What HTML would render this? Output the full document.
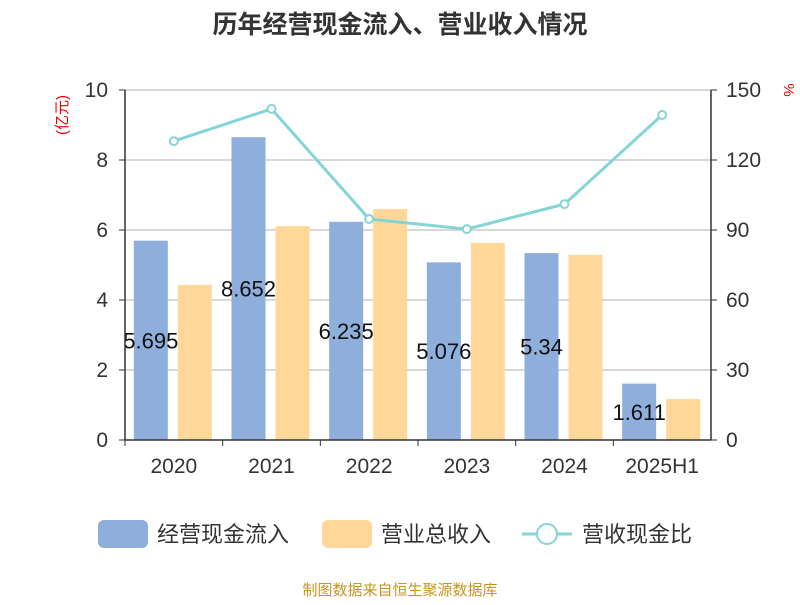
<!DOCTYPE html>
<html><head><meta charset="utf-8"><style>
body{margin:0;background:#fff;}
svg{font-family:"Liberation Sans","Noto Sans CJK SC",sans-serif;}
</style></head><body>
<svg id="chart" width="800" height="600">
<text x="400" y="33" text-anchor="middle" font-size="25" font-weight="bold" fill="#333">历年经营现金流入、营业收入情况</text>
<text x="67" y="115" font-size="15" fill="#e00" transform="rotate(-90 67 115)" text-anchor="middle">(亿元)</text>
<text x="784" y="90" font-size="15" fill="#e00" transform="rotate(90 784 90)" text-anchor="middle">%</text>
<g id="grid"></g><g id="bars"></g><g id="line"></g><g id="axes"></g>
<g>
<rect x="98" y="520" width="50" height="28" rx="6" fill="#8eaedb"/>
<text x="157" y="542" font-size="22" fill="#333">经营现金流入</text>
<rect x="322" y="520" width="50" height="28" rx="6" fill="#ffd899"/>
<text x="381" y="542" font-size="22" fill="#333">营业总收入</text>
<line x1="522" y1="534" x2="572" y2="534" stroke="#85d4d6" stroke-width="3"/>
<circle cx="547" cy="534" r="10" fill="#fff" stroke="#85d4d6" stroke-width="2"/>
<text x="582" y="542" font-size="22" fill="#333">营收现金比</text>
</g>
<text x="400" y="595" text-anchor="middle" font-size="15" fill="#c8961e">制图数据来自恒生聚源数据库</text>
</svg>
<script>
const categories=["2020","2021","2022","2023","2024","2025H1"];
const cashIn=[5.695,8.652,6.235,5.076,5.34,1.611];
const cashLabels=["5.695","8.652","6.235","5.076","5.34","1.611"];
const revenue=[4.43,6.11,6.6,5.63,5.29,1.17];
const ratio=[128.1,141.9,94.7,90.4,101.1,139.3];
const leftTicks=[0,2,4,6,8,10];
const rightTicks=[0,30,60,90,120,150];
const NS="http://www.w3.org/2000/svg";
const X0=125,X1=711,Y0=440,Y1=90;
const band=(X1-X0)/categories.length;
const yL=v=>Y0-(v/10)*(Y0-Y1);
const yR=v=>Y0-(v/150)*(Y0-Y1);
const cx=i=>X0+band*(i+0.5);
function mk(tag,attrs,parent,text){const e=document.createElementNS(NS,tag);for(const k in attrs)e.setAttribute(k,attrs[k]);if(text!==undefined)e.textContent=text;document.getElementById(parent).appendChild(e);return e;}
leftTicks.forEach((t,i)=>{
 const y=yL(t);
 if(t>0){const g=mk("line",{x1:X0,x2:X1,y1:y,y2:y,stroke:"#ccc","stroke-width":1.5},"grid");
 
 }
 const l=mk("text",{x:X0-17,y:y+7,"text-anchor":"end","font-size":21,fill:"#333"},"axes",t);
 
 
 const tk=mk("line",{x1:X0-6,x2:X0,y1:y,y2:y,stroke:"#333"},"axes");
 
 
});
rightTicks.forEach(t=>{
 const y=yR(t);
 const l=mk("text",{x:X1+15,y:y+7,"font-size":21,fill:"#333"},"axes",t);
 
 
 const tk=mk("line",{x1:X1,x2:X1+6,y1:y,y2:y,stroke:"#333"},"axes");
 
 
});
[[X0,Y1,X0,Y0],[X1,Y1,X1,Y0],[X0,Y0,X1,Y0]].forEach(a=>{
 const l=mk("line",{x1:a[0],y1:a[1],x2:a[2],y2:a[3],stroke:"#333","stroke-width":1.5},"axes");
 
 
});
categories.forEach((c,i)=>{
 const x=X0+band*i;
 const tk=mk("line",{x1:x,x2:x,y1:Y0,y2:Y0+6,stroke:"#333"},"axes");
 
 
 const l=mk("text",{x:cx(i),y:Y0+33,"text-anchor":"middle","font-size":21,fill:"#333"},"axes",c);
 
 
 const bx=cx(i)-40;
 const b=mk("rect",{x:bx,y:yL(cashIn[i]),width:34,height:Y0-yL(cashIn[i]),fill:"#8eaedb"},"bars");
 
 
 const r=mk("rect",{x:cx(i)+4,y:yL(revenue[i]),width:34,height:Y0-yL(revenue[i]),fill:"#ffd899"},"bars");
 
 
 const v=mk("text",{x:bx+17,y:(yL(cashIn[i])+Y0)/2+8,"text-anchor":"middle","font-size":22,fill:"#111"},"bars",cashLabels[i]);
 
 
});
const pts=ratio.map((v,i)=>cx(i)+","+yR(v)).join(" ");
const pl=mk("polyline",{points:pts,fill:"none",stroke:"#85d4d6","stroke-width":3},"line");


ratio.forEach((v,i)=>{
 const p=mk("circle",{cx:cx(i),cy:yR(v),r:4,fill:"#fff",stroke:"#85d4d6","stroke-width":2},"line");
 
 
});
</script>
</body></html>
